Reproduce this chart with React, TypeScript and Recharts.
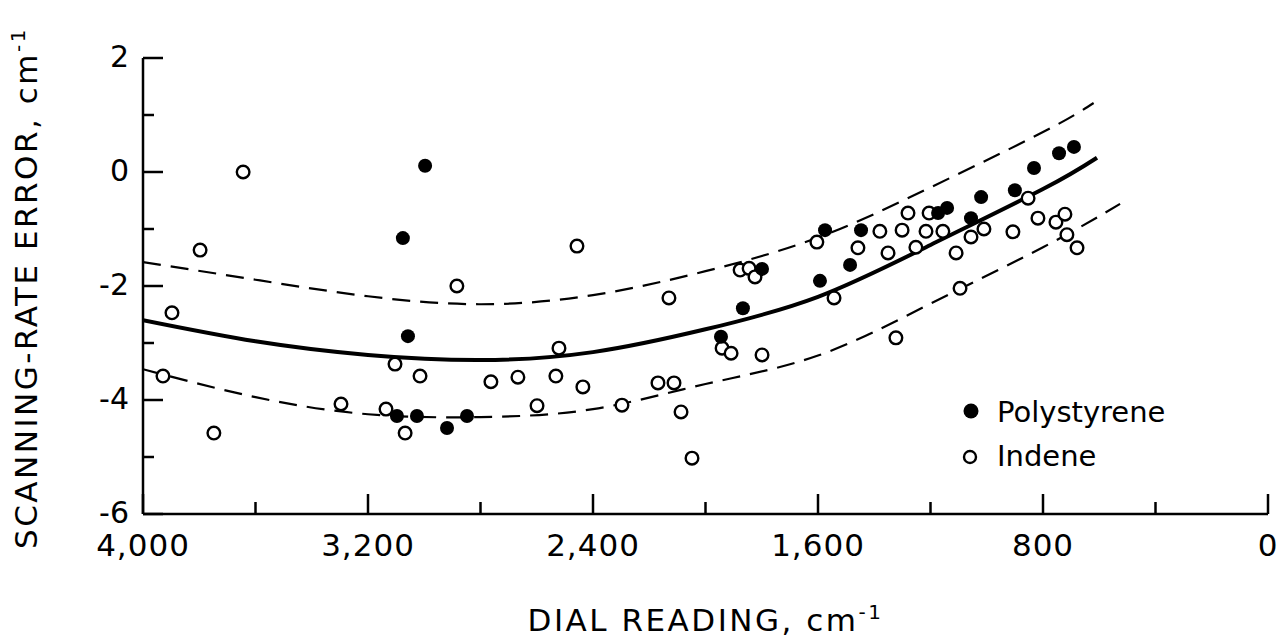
import { ComposedChart, Scatter, Line, XAxis, YAxis, Legend } from 'recharts';

// dial reading (cm-1) / scanning-rate error (cm-1)
const POLY_X = [2997, 3076, 3058, 3097, 3026, 2919, 2848, 1945, 1867, 1799, 1593, 1575, 1486, 1447, 1173, 1141, 1056, 1020, 900, 832, 743, 690];
const POLY_Y = [0.11, -1.16, -2.88, -4.28, -4.28, -4.49, -4.28, -2.89, -2.39, -1.7, -1.91, -1.02, -1.63, -1.02, -0.72, -0.63, -0.81, -0.44, -0.32, 0.07, 0.33, 0.44];

const INDENE_X = [
  3644, 3797, 3897, 3929, 3748, 3296, 3104, 3015, 3136, 3068, 2884, 2457, 2130, 2763, 2667, 2521, 2532, 2436,
  2599, 2297, 2169, 2112, 2087, 2048, 1941, 1909, 1799, 1323, 1877, 1845, 1824, 1604, 1543, 1458, 1380, 1301,
  1280, 1351, 1252, 1216, 1205, 1156, 1109, 1095, 1056, 1010, 907, 853, 818, 754, 722, 715, 679,
];
const INDENE_Y = [
  0, -1.37, -2.47, -3.58, -4.58, -4.07, -3.37, -3.58, -4.16, -4.58, -2.0, -1.3, -2.21, -3.68, -3.6, -3.09, -3.58, -3.77,
  -4.1, -4.09, -3.7, -3.7, -4.21, -5.02, -3.09, -3.18, -3.21, -2.91, -1.72, -1.69, -1.84, -1.23, -2.21, -1.33, -1.04, -1.02,
  -0.72, -1.42, -1.32, -1.04, -0.72, -1.04, -1.42, -2.04, -1.14, -1.0, -1.05, -0.46, -0.81, -0.88, -0.74, -1.1, -1.33,
];

// fitted curve and its limits, read at regular dial readings
const FIT_X = [4000, 3600, 3200, 2800, 2400, 2000, 1600, 1200, 800, 608];
const FIT_Y = [-2.6, -2.97, -3.21, -3.3, -3.16, -2.76, -2.19, -1.28, -0.3, 0.25];
const UPPER_X = [4000, 3600, 3200, 2800, 2400, 2000, 1600, 1200, 800, 620];
const UPPER_Y = [-1.58, -1.89, -2.18, -2.32, -2.16, -1.74, -1.15, -0.27, 0.7, 1.21];
const LOWER_X = [4000, 3600, 3200, 2800, 2400, 2000, 1600, 1200, 800, 526];
const LOWER_Y = [-3.46, -3.95, -4.25, -4.3, -4.16, -3.72, -3.22, -2.31, -1.32, -0.56];

const X_TICKS = [4000, 3600, 3200, 2800, 2400, 2000, 1600, 1200, 800, 400, 0];
const X_MAJOR = [4000, 3200, 2400, 1600, 800, 0];
const X_MAJOR_LABELS = ['4,000', '3,200', '2,400', '1,600', '800', '0'];
const Y_TICKS = [-6, -5, -4, -3, -2, -1, 0, 1, 2];
const Y_MAJOR = [-6, -4, -2, 0, 2];
const Y_MAJOR_LABELS = ['-6', '-4', '-2', '0', '2'];

const FONT = '"DejaVu Sans", sans-serif';

const zip = (xs: number[], ys: number[]) => xs.map((x, i) => ({ x, y: ys[i] }));

// eslint-disable-next-line @typescript-eslint/no-explicit-any
function XTick({ x, y, payload }: any) {
  const i = X_MAJOR.indexOf(payload.value);
  return (
    <g>
      <line x1={x} x2={x} y1={y} y2={y - (i >= 0 ? 20 : 12)} stroke="#000" strokeWidth={2.5} />
      {i >= 0 && (
        <text x={x} y={y + 42} textAnchor="middle" fontFamily={FONT} fontSize={31} letterSpacing={1} fill="#000">
          {X_MAJOR_LABELS[i]}
        </text>
      )}
    </g>
  );
}

// eslint-disable-next-line @typescript-eslint/no-explicit-any
function YTick({ x, y, payload }: any) {
  const i = Y_MAJOR.indexOf(payload.value);
  return (
    <g>
      <line x1={x} x2={x + (i >= 0 ? 20 : 11)} y1={y} y2={y} stroke="#000" strokeWidth={2.5} />
      {i >= 0 && (
        <text x={x - 14} y={y + 9} textAnchor="end" fontFamily={FONT} fontSize={30} fill="#000">
          {Y_MAJOR_LABELS[i]}
        </text>
      )}
    </g>
  );
}

// eslint-disable-next-line @typescript-eslint/no-explicit-any
const FilledDot = ({ cx, cy }: any) => <circle cx={cx} cy={cy} r={7} fill="#000" />;
// eslint-disable-next-line @typescript-eslint/no-explicit-any
const OpenDot = ({ cx, cy }: any) => <circle cx={cx} cy={cy} r={6.3} fill="#fff" stroke="#000" strokeWidth={2.4} />;

function LegendBox() {
  return (
    <svg width={240} height={90}>
      <circle cx={13} cy={21} r={7.5} fill="#000" />
      <text x={39} y={32} fontFamily={FONT} fontSize={29} fill="#000">Polystyrene</text>
      <circle cx={12} cy={67} r={6} fill="#fff" stroke="#000" strokeWidth={2.4} />
      <text x={39} y={76} fontFamily={FONT} fontSize={29} fill="#000">Indene</text>
    </svg>
  );
}

// eslint-disable-next-line @typescript-eslint/no-explicit-any
function XLabel({ viewBox }: any) {
  const cx = viewBox.x + viewBox.width / 2;
  return (
    <text x={cx} y={viewBox.y + 117} textAnchor="middle" fontFamily={FONT} fontSize={31} letterSpacing={2.5} fill="#000">
      DIAL READING, cm<tspan dy={-12} fontSize={20}>-1</tspan>
    </text>
  );
}

// eslint-disable-next-line @typescript-eslint/no-explicit-any
function YLabel({ viewBox }: any) {
  const cy = viewBox.y + viewBox.height / 2 + 2;
  return (
    <text
      x={37}
      y={cy}
      transform={`rotate(-90 37 ${cy})`}
      textAnchor="middle"
      fontFamily={FONT}
      fontSize={31}
      letterSpacing={2.5}
      fill="#000"
    >
      SCANNING-RATE ERROR, cm<tspan dy={-12} fontSize={20}>-1</tspan>
    </text>
  );
}

export default function App() {
  return (
    <div style={{ position: 'absolute', left: 0, top: 0, background: '#fff' }}>
      <ComposedChart width={1279} height={637} margin={{ top: 58, right: 11, bottom: 122, left: 142 }}>
        <XAxis
          type="number"
          dataKey="x"
          domain={[0, 4000]}
          reversed
          ticks={X_TICKS}
          interval={0}
          tickLine={false}
          tickSize={0}
          tickMargin={0}
          height={1}
          axisLine={{ stroke: '#000', strokeWidth: 2.5 }}
          tick={<XTick />}
          allowDataOverflow
          label={<XLabel />}
        />
        <YAxis
          type="number"
          dataKey="y"
          domain={[-6, 2]}
          ticks={Y_TICKS}
          interval={0}
          tickLine={false}
          tickSize={0}
          tickMargin={0}
          width={1}
          axisLine={{ stroke: '#000', strokeWidth: 2.5 }}
          tick={<YTick />}
          allowDataOverflow
          label={<YLabel />}
        />
        <Legend
          layout="horizontal"
          verticalAlign="middle"
          align="center"
          wrapperStyle={{ position: 'absolute', left: 958, top: 390, width: 240, height: 90 }}
          content={<LegendBox />}
        />
        <Line data={zip(UPPER_X, UPPER_Y)} dataKey="y" type="natural" stroke="#000" strokeWidth={2.2} strokeDasharray="18 10" dot={false} isAnimationActive={false} legendType="none" />
        <Line data={zip(LOWER_X, LOWER_Y)} dataKey="y" type="natural" stroke="#000" strokeWidth={2.2} strokeDasharray="18 10" dot={false} isAnimationActive={false} legendType="none" />
        <Line data={zip(FIT_X, FIT_Y)} dataKey="y" type="natural" stroke="#000" strokeWidth={4} dot={false} isAnimationActive={false} legendType="none" />
        <Scatter name="Indene" data={zip(INDENE_X, INDENE_Y)} shape={<OpenDot />} isAnimationActive={false} />
        <Scatter name="Polystyrene" data={zip(POLY_X, POLY_Y)} shape={<FilledDot />} isAnimationActive={false} />
      </ComposedChart>
    </div>
  );
}
